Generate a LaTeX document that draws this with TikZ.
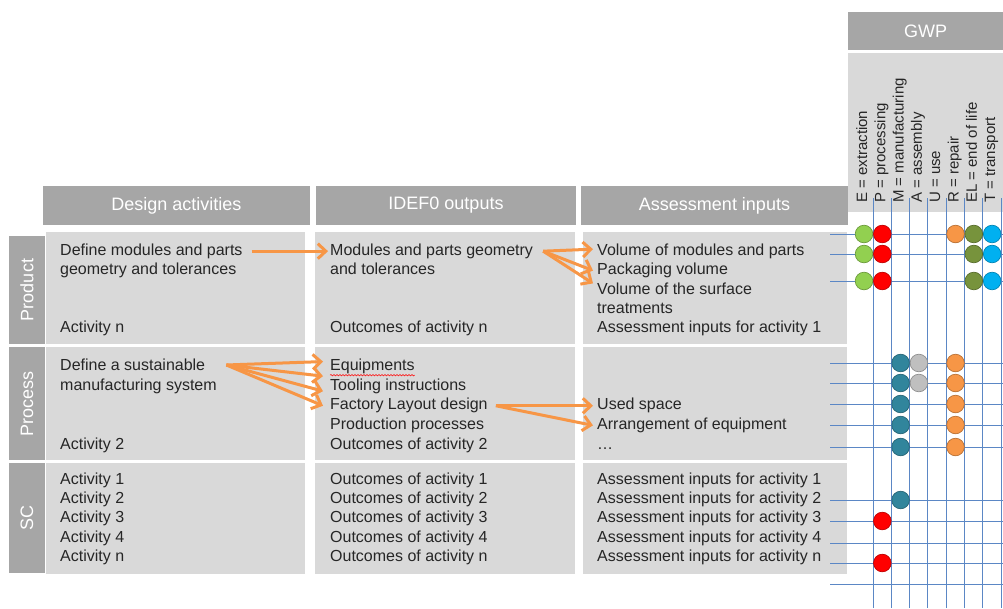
\documentclass[tikz,border=0pt]{standalone}
\usepackage{fontspec}
\setmainfont{Liberation Sans}
\usepackage{xcolor}
\usetikzlibrary{positioning,arrows.meta,decorations.pathmorphing}

\definecolor{hdrgray}{HTML}{A6A6A6}
\definecolor{cellgray}{HTML}{D9D9D9}
\definecolor{gridblue}{HTML}{5B87C5}
\definecolor{flow}{HTML}{F79646}
\definecolor{cE}{HTML}{92D050}
\definecolor{cP}{HTML}{FF0000}
\definecolor{cM}{HTML}{31859C}
\definecolor{cA}{HTML}{BFBFBF}
\definecolor{cR}{HTML}{F79646}
\definecolor{cEL}{HTML}{77933C}
\definecolor{cT}{HTML}{00B0F0}

\tikzset{
  header/.style={fill=hdrgray, text=white, inner sep=0pt, font=\fontsize{18}{21}\selectfont},
  txt/.style={anchor=base west, inner sep=0pt, text=black!85, font=\fontsize{16}{19}\selectfont},
  gwplabel/.style={rotate=90, anchor=base west, inner sep=0pt, text=black!85, font=\fontsize{15}{18}\selectfont},
  gridline/.style={draw=gridblue, line width=0.9pt},
  dot/.style={draw=#1!75!black, fill=#1, line width=0.7pt},
  flowarrow/.style={draw=flow, line width=3pt, -{Straight Barb[length=8pt,width=15pt]}},
  squiggle/.style={draw=red, line width=0.5pt, decorate, decoration={snake, amplitude=0.7pt, segment length=3pt}}
}

\begin{document}
\begin{tikzpicture}[x=1pt,y=-1pt]
    \useasboundingbox (0,0) rectangle (1003,608);

    % Cells
    \foreach \xa/\xb in {46/305, 315/575, 583/847}
        \foreach \ya/\yb in {232/344, 347/460, 463/574}
            \fill[cellgray] (\xa,\ya) rectangle (\xb,\yb);
    \fill[cellgray] (848,53) rectangle (1003,212);

    % Column headers
    \node[header, minimum width=267, minimum height=39] (hdesign) at (176.5,205.5) {Design activities};
    \node[header, minimum width=260, minimum height=39] (hidef) at (446,205.5) {IDEF0 outputs};
    \node[header, minimum width=267, minimum height=39] (hassess) at (714.5,205.5) {Assessment inputs};
    \node[header, minimum width=155, minimum height=38] (hgwp) at (925.5,31) {GWP};

    % Row headers
    \node[header, rotate=90, minimum width=108, minimum height=36] (rproduct) at (27,290) {Product};
    \node[header, rotate=90, minimum width=113, minimum height=36] (rprocess) at (27,403.5) {Process};
    \node[header, rotate=90, minimum width=110, minimum height=36] (rsc) at (27,518) {SC};

    % Product row
    \node[txt] (dmod) at (60,255.3) {Define modules and parts};
    \node[txt] (dgeo) at (60,274.7) {geometry and tolerances};
    \node[txt] (dact) at (60,332.9) {Activity n};
    \node[txt] (omod) at (330,255.3) {Modules and parts geometry};
    \node[txt] (otol) at (330,274.7) {and tolerances};
    \node[txt] (oact) at (330,332.9) {Outcomes of activity n};
    \node[txt] (avol) at (597,255.3) {Volume of modules and parts};
    \node[txt] (apack) at (597,274.7) {Packaging volume};
    \node[txt] (asurf) at (597,294.1) {Volume of the surface};
    \node[txt] (atreat) at (597,313.5) {treatments};
    \node[txt] (ainp) at (597,332.9) {Assessment inputs for activity 1};

    % Process row
    \node[txt] (dsus) at (60,370.7) {Define a sustainable};
    \node[txt] (dman) at (60,390.3) {manufacturing system};
    \node[txt] (dact2) at (60,449.1) {Activity 2};
    \node[txt] (oequ) at (330,370.7) {Equipments};
    \node[txt] (otool) at (330,390.3) {Tooling instructions};
    \node[txt] (ofac) at (330,409.9) {Factory Layout design};
    \node[txt] (oprod) at (330,429.5) {Production processes};
    \node[txt] (oact2) at (330,449.1) {Outcomes of activity 2};
    \node[txt] (aused) at (597,409.9) {Used space};
    \node[txt] (aarr) at (597,429.5) {Arrangement of equipment};
    \node[txt] (adots) at (597,449.1) {\dots};
    \draw[squiggle] ([yshift=-1pt]oequ.south west) -- ([yshift=-1pt]oequ.south east);

    % SC row
    \foreach \k/\t in {0/1, 1/2, 2/3, 3/4, 4/n} {
        \node[txt] (dsc\k) at (60,484+19.4*\k) {Activity \t};
        \node[txt] (osc\k) at (330,484+19.4*\k) {Outcomes of activity \t};
        \node[txt] (asc\k) at (597,484+19.4*\k) {Assessment inputs for activity \t};
    }

    % GWP legend
    \foreach \i/\t in {0/E = extraction, 1/P = processing, 2/M = manufacturing, 3/A = assembly,
                       4/U = use, 5/R = repair, 6/EL = end of life, 7/T = transport}
        \node[gwplabel] (g\i) at (867+18.3*\i,203) {\t};

    % GWP grid
    \foreach \i in {0,...,7}
        \draw[gridline] (873+18.3*\i,198) -- (873+18.3*\i,608);
    \foreach \y in {234,254,281,363,383,404,425,447,500,521,543,563,584}
        \draw[gridline] (830,\y) -- (1003,\y);

    % GWP dots
    \foreach \c/\y/\col in {0/234/cE, 1/234/cP, 5/234/cR, 6/234/cEL, 7/234/cT,
                            0/254/cE, 1/254/cP, 6/254/cEL, 7/254/cT,
                            0/281/cE, 1/281/cP, 6/281/cEL, 7/281/cT,
                            2/363/cM, 3/363/cA, 5/363/cR,
                            2/383/cM, 3/383/cA, 5/383/cR,
                            2/404/cM, 5/404/cR, 2/425/cM, 5/425/cR, 2/447/cM, 5/447/cR,
                            2/500/cM, 1/521/cP, 1/563/cP}
        \draw[dot=\col] (864+18.3*\c,\y) circle[radius=8.8pt];

    % Flows
    \draw[flowarrow] ([xshift=9pt]dmod.east) -- ([xshift=-2pt]omod.west);
    \foreach \t/\s in {avol/2, apack/0, asurf/5}
        \draw[flowarrow] ([xshift=10pt]omod.east) -- ([xshift=-4pt,yshift=\s]\t.west);
    \foreach \t/\s in {oequ/5, otool/10, otool/-5, ofac/0}
        \draw[flowarrow] ([xshift=21pt]dsus.east) -- ([xshift=-7pt,yshift=\s]\t.west);
    \foreach \t in {aused, aarr}
        \draw[flowarrow] ([xshift=8pt]ofac.east) -- ([xshift=-4pt]\t.west);
\end{tikzpicture}
\end{document}
